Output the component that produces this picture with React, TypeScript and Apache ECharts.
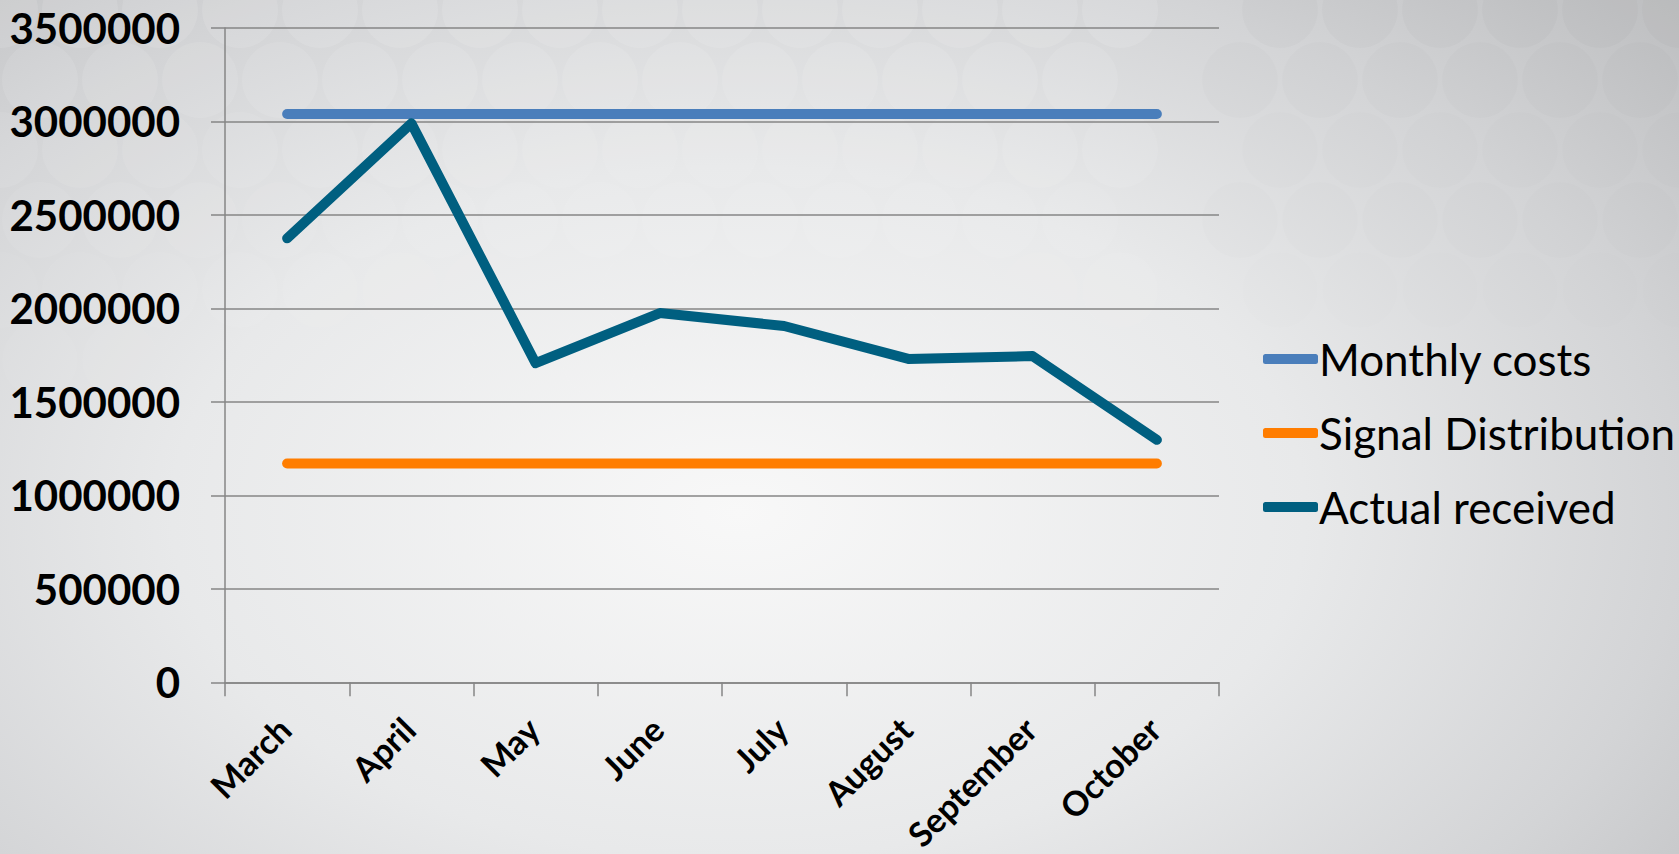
import React, { useEffect, useRef } from "react";
import * as echarts from "echarts";

const months = ["March", "April", "May", "June", "July", "August", "September", "October"];
const monthlyCosts = [3040000, 3040000, 3040000, 3040000, 3040000, 3040000, 3040000, 3040000];
const signalDistribution = [1170000, 1170000, 1170000, 1170000, 1170000, 1170000, 1170000, 1170000];
const actualReceived = [2375000, 2990000, 1707000, 1975000, 1906000, 1730000, 1745000, 1297000];
const seriesNames = ["Monthly costs", "Signal Distribution", "Actual received"];
const seriesColors = ["#4a7ebb", "#ff7d00", "#005f80"];

function backgroundCircles() {
  const items: any[] = [];
  const r = 38;
  const dx = 80;
  const dy = 70;
  for (let row = 0; row < 8; row++) {
    const y = row * dy + 10;
    for (let col = -1; col < 22; col++) {
      const x = col * dx + (row % 2 ? dx / 2 : 0);
      const fadeY = Math.max(0, 1 - y / 520);
      const fadeX = x > 1150 ? 0 : 1;
      const op = 0.11 * fadeY * fadeX;
      if (op > 0.01) {
        items.push({
          type: "circle",
          silent: true,
          z: -10,
          shape: { cx: x, cy: y, r },
          style: { fill: `rgba(255,255,255,${op.toFixed(3)})` },
        });
      }
      if (x > 1200 && y < 400) {
        items.push({
          type: "circle",
          silent: true,
          z: -10,
          shape: { cx: x, cy: y, r },
          style: { fill: `rgba(0,0,0,${(0.015 * (1 - y / 400)).toFixed(3)})` },
        });
      }
    }
  }
  return items;
}

export default function App() {
  const ref = useRef<HTMLDivElement>(null);
  useEffect(() => {
    document.body.style.margin = "0";
    const chart = echarts.init(ref.current!, null, { renderer: "svg" });
    const dataSets = [monthlyCosts, signalDistribution, actualReceived];
    chart.setOption({
      animation: false,
      textStyle: { fontFamily: "Lato" },
      graphic: backgroundCircles(),
      grid: { left: 225, top: 28, right: 460, bottom: 168 },
      legend: {
        orient: "vertical",
        left: 1258,
        top: 329,
        itemWidth: 55,
        itemHeight: 10,
        itemGap: 24,
        icon: "roundRect",
        textStyle: { fontSize: 44, color: "#000", fontFamily: "Lato", lineHeight: 50, padding: [0, 0, 0, -4] },
        data: seriesNames,
      },
      xAxis: {
        type: "category",
        data: months,
        boundaryGap: true,
        axisLine: { lineStyle: { color: "#868686", width: 1.5 } },
        axisTick: { show: true, length: 14, lineStyle: { color: "#868686", width: 1.5 } },
        axisLabel: {
          rotate: 45,
          interval: 0,
          margin: 38,
          fontSize: 34,
          fontWeight: "bold",
          color: "#000",
          fontFamily: "Lato",
          padding: [0, 4, 0, 0],
        },
      },
      yAxis: {
        type: "value",
        min: 0,
        max: 3500000,
        interval: 500000,
        axisLine: { show: true, lineStyle: { color: "#868686", width: 1.5 } },
        axisTick: { show: true, length: 14, lineStyle: { color: "#868686", width: 1.5 } },
        splitLine: { lineStyle: { color: "#868686", width: 1.5 } },
        axisLabel: {
          margin: 45,
          fontSize: 42,
          fontWeight: "bold",
          color: "#000",
          fontFamily: "Lato",
          formatter: (v: number) => String(v),
        },
      },
      series: dataSets.map((d, i) => ({
        name: seriesNames[i],
        type: "line",
        data: d,
        symbol: "none",
        color: seriesColors[i],
        lineStyle: { width: 10, color: seriesColors[i], cap: "round", join: "round" },
      })),
    });
    return () => chart.dispose();
  }, []);
  return (
    <div
      style={{
        position: "absolute",
        left: 0,
        top: 0,
        width: 1679,
        height: 854,
        background:
          "radial-gradient(ellipse 75% 90% at 44% 60%, #f8f8f8 0%, #e8e9ea 45%, #d3d4d6 75%, #bdbec0 100%)",
      }}
    >
      <div ref={ref} style={{ width: 1679, height: 854 }} />
    </div>
  );
}
